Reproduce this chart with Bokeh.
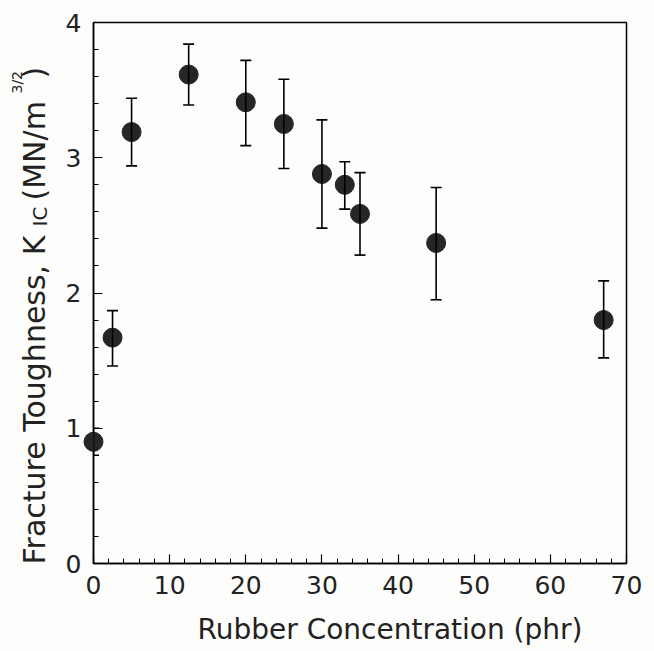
import math
from bokeh.plotting import figure
from bokeh.models import ColumnDataSource, Whisker, TeeHead, SingleIntervalTicker
from bokeh.core.properties import value
from bokeh.embed import file_html
from bokeh.resources import INLINE

# ---- data ----
rubber_phr = [0, 2.5, 5, 12.5, 20, 25, 30, 33, 35, 45, 67]
k_ic = [0.90, 1.67, 3.19, 3.615, 3.41, 3.25, 2.88, 2.80, 2.585, 2.37, 1.80]
k_ic_upper = [1.00, 1.87, 3.44, 3.84, 3.72, 3.58, 3.28, 2.97, 2.89, 2.78, 2.09]
k_ic_lower = [0.80, 1.46, 2.94, 3.39, 3.09, 2.92, 2.48, 2.62, 2.28, 1.95, 1.52]

X_MIN, X_MAX = 0, 70
Y_MIN, Y_MAX = 0, 4

FONT = "DejaVu Sans"
TXT = "#222222"
BG = "#fdfdfb"

# frame placement in canvas pixels
FRAME_L, FRAME_R, FRAME_T, FRAME_B = 93, 626, 22, 563
W, H = 654, 651


def dx(px):
    return X_MIN + (px - FRAME_L) / (FRAME_R - FRAME_L) * (X_MAX - X_MIN)


def dy(py):
    return Y_MIN + (FRAME_B - py) / (FRAME_B - FRAME_T) * (Y_MAX - Y_MIN)


p = figure(width=W, height=H, output_backend="svg", toolbar_location=None,
           x_range=(X_MIN, X_MAX), y_range=(Y_MIN, Y_MAX),
           min_border_left=FRAME_L, min_border_right=W - FRAME_R,
           min_border_top=FRAME_T, min_border_bottom=H - FRAME_B)

p.background_fill_color = BG
p.border_fill_color = BG
p.outline_line_color = "black"
p.outline_line_width = 1.5
p.grid.visible = False

p.xaxis.ticker = SingleIntervalTicker(interval=10, num_minor_ticks=5)
p.yaxis.ticker = SingleIntervalTicker(interval=1, num_minor_ticks=5)
for ax in (p.xaxis, p.yaxis):
    ax.axis_line_color = "black"
    ax.axis_line_width = 1.5
    ax.major_tick_in = 9
    ax.major_tick_out = 0
    ax.minor_tick_in = 5
    ax.minor_tick_out = 0
    ax.major_tick_line_color = "black"
    ax.minor_tick_line_color = "black"
    ax.major_tick_line_width = 1.2
    ax.minor_tick_line_width = 1
    ax.major_label_text_font = FONT
    ax.major_label_text_font_size = "25px"
    ax.major_label_text_color = TXT
    ax.major_label_standoff = 12

src = ColumnDataSource(dict(x=rubber_phr, y=k_ic, up=k_ic_upper, lo=k_ic_lower))

wh = Whisker(source=src, base="x", upper="up", lower="lo",
             line_color="black", line_width=1.6,
             upper_head=TeeHead(size=11, line_color="black", line_width=1.6),
             lower_head=TeeHead(size=11, line_color="black", line_width=1.6))
wh.level = "overlay"
p.add_layout(wh)

r = p.scatter("x", "y", source=src, size=19, fill_color="#262626",
              line_color="#262626", line_width=1)
r.level = "overlay"


def add_text(txt, px, py, fs, angle=0.0):
    t = p.text(x=[dx(px)], y=[dy(py)], text=[txt], angle=angle,
               text_font=value(FONT), text_font_size=value(fs),
               text_color=TXT, text_align="left", text_baseline="alphabetic")
    t.level = "overlay"
    return t


# x-axis title
add_text("Rubber Concentration (phr)", 197, 629, "28px")

# y-axis title with subscript / superscript pieces
ang = math.pi / 2
pieces = [
    ("Fracture Toughness, K", 34, 564, "30px"),
    ("IC", 39, 226, "20px"),
    ("(MN/m", 34, 200, "30px"),
    ("3/2", 16, 93, "14px"),
    (")", 34, 78, "30px"),
]
for txt, px, py, fs in pieces:
    add_text(txt, px, py, fs, ang)

open("out.html", "w").write(file_html(p, INLINE))
